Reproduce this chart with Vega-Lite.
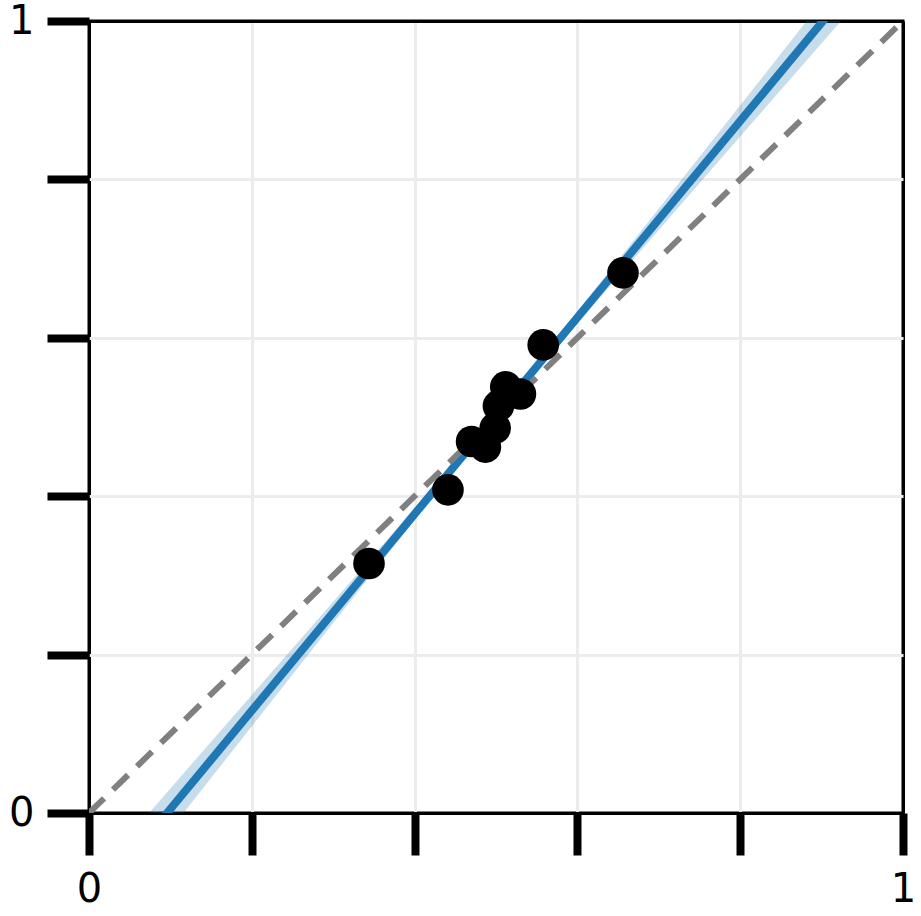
{
  "$schema": "https://vega.github.io/schema/vega-lite/v6.json",
  "autosize": {"type": "none"},
  "padding": {"left": 89, "top": 21, "right": 18, "bottom": 103},
  "width": 814,
  "height": 792,
  "background": "white",
  "config": {
    "view": {"stroke": "black", "strokeWidth": 3},
    "font": "DejaVu Sans",
    "axis": {
      "domain": false, "tickSize": 42, "tickWidth": 8, "tickColor": "black", "tickCap": "butt",
      "labelFontSize": 40, "labelFont": "DejaVu Sans", "labelColor": "black",
      "labelFlush": false, "labelOverlap": false, "labelBound": false,
      "grid": true, "titleFontSize": 0
    },
    "axisX": {"labelPadding": 14},
    "axisY": {"labelPadding": 13}
  },
  "datasets": {
    "points": [
      {"x": 0.344, "y": 0.315},
      {"x": 0.441, "y": 0.408},
      {"x": 0.470, "y": 0.469},
      {"x": 0.487, "y": 0.462},
      {"x": 0.499, "y": 0.486},
      {"x": 0.503, "y": 0.514},
      {"x": 0.512, "y": 0.538},
      {"x": 0.530, "y": 0.529},
      {"x": 0.558, "y": 0.591},
      {"x": 0.656, "y": 0.682}
    ],
    "fit": [
      {"x": 0.0, "y": -0.119},
      {"x": 1.0, "y": 1.122}
    ],
    "band": [
      {"x": 0.0, "y": -0.151, "hi": -0.087},
      {"x": 0.1, "y": -0.021, "hi": 0.031},
      {"x": 0.2, "y": 0.1095, "hi": 0.1489},
      {"x": 0.3, "y": 0.2398, "hi": 0.2668},
      {"x": 0.4, "y": 0.3698, "hi": 0.385},
      {"x": 0.5, "y": 0.4975, "hi": 0.5055},
      {"x": 0.6, "y": 0.618, "hi": 0.6332},
      {"x": 0.7, "y": 0.7362, "hi": 0.7632},
      {"x": 0.8, "y": 0.8541, "hi": 0.8935},
      {"x": 0.9, "y": 0.9719, "hi": 1.0239},
      {"x": 1.0, "y": 1.0896, "hi": 1.1544}
    ],
    "identity": [
      {"x": 0, "y": 0},
      {"x": 1, "y": 1}
    ]
  },
  "encoding": {
    "x": {
      "field": "x", "type": "quantitative", "title": null,
      "scale": {"domain": [0, 1], "nice": false, "zero": false},
      "axis": {
        "tickCount": 5,
        "labelExpr": "datum.value == 0 ? '0' : datum.value == 1 ? '1' : ''",
        "gridColor": {"condition": {"test": "datum.value == 0 || datum.value == 1", "value": "black"}, "value": "#ececec"},
        "gridWidth": {"condition": {"test": "datum.value == 0 || datum.value == 1", "value": 3}, "value": 3}
      }
    },
    "y": {
      "field": "y", "type": "quantitative", "title": null,
      "scale": {"domain": [0, 1], "nice": false, "zero": false},
      "axis": {
        "tickCount": 5,
        "labelExpr": "datum.value == 0 ? '0' : datum.value == 1 ? '1' : ''",
        "gridColor": {"condition": {"test": "datum.value == 0 || datum.value == 1", "value": "black"}, "value": "#ececec"},
        "gridWidth": {"condition": {"test": "datum.value == 0 || datum.value == 1", "value": 3}, "value": 3}
      }
    }
  },
  "layer": [
    {
      "data": {"name": "band"},
      "mark": {"type": "area", "color": "#1f77b4", "opacity": 0.25, "clip": true},
      "encoding": {
        "y2": {"field": "hi"}
      }
    },
    {
      "data": {"name": "fit"},
      "mark": {"type": "line", "color": "#1f77b4", "strokeWidth": 8, "clip": true, "strokeCap": "butt"}
    },
    {
      "data": {"name": "identity"},
      "mark": {"type": "line", "color": "#808080", "strokeWidth": 6, "strokeDash": [21, 12.5], "strokeCap": "butt", "clip": true}
    },
    {
      "data": {"name": "points"},
      "mark": {"type": "circle", "color": "black", "opacity": 1, "size": 1000}
    }
  ]
}
